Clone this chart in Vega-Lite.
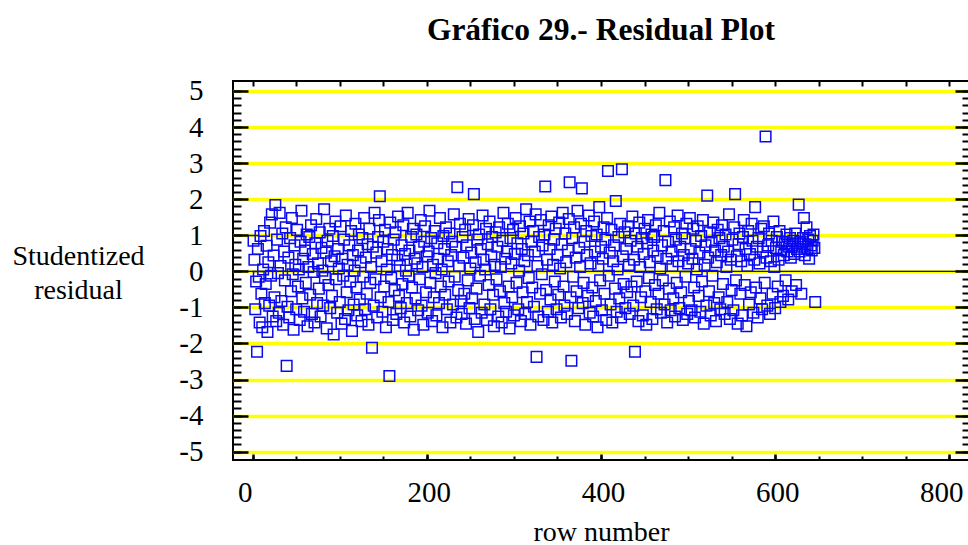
{
"$schema": "https://vega.github.io/schema/vega-lite/v6.json",
"autosize": "none",
"width": 736,
"height": 379,
"padding": {"left": 233, "top": 81, "right": 0, "bottom": 85},
"background": "white",
"config": {"view": {"stroke": "black", "strokeWidth": 2}, "font": "Liberation Serif"},
"title": {"text": "Gráfico 29.- Residual Plot", "font": "Liberation Serif", "fontSize": 31.5, "fontWeight": "bold", "anchor": "middle", "frame": "group", "offset": 5, "baseline": "alphabetic", "color": "black"},
"datasets": {
"resid": [
{"r":1,"v":0.85},{"r":2,"v":0.32},{"r":3,"v":-1.05},{"r":4,"v":-0.28},{"r":5,"v":-2.23},{"r":6,"v":0.62},{"r":7,"v":-0.15},{"r":8,"v":-1.42},{"r":9,"v":0.98},{"r":10,"v":-0.62},
{"r":11,"v":-1.55},{"r":12,"v":0.05},{"r":13,"v":1.12},{"r":14,"v":-0.88},{"r":15,"v":-0.35},{"r":16,"v":0.71},{"r":17,"v":-1.68},{"r":18,"v":0.25},{"r":19,"v":-0.95},{"r":20,"v":1.35},
{"r":21,"v":-0.12},{"r":22,"v":1.58},{"r":23,"v":-1.25},{"r":24,"v":0.44},{"r":25,"v":-0.72},{"r":26,"v":1.84},{"r":27,"v":-1.38},{"r":28,"v":0.88},{"r":29,"v":-0.05},{"r":30,"v":-1.15},
{"r":31,"v":1.62},{"r":32,"v":0.15},{"r":33,"v":-0.82},{"r":34,"v":1.05},{"r":35,"v":-1.48},{"r":36,"v":0.55},{"r":37,"v":-0.25},{"r":38,"v":1.22},{"r":39,"v":-2.62},{"r":40,"v":-0.98},
{"r":41,"v":0.38},{"r":42,"v":-1.28},{"r":43,"v":0.92},{"r":44,"v":-0.55},{"r":45,"v":1.48},{"r":46,"v":-0.08},{"r":47,"v":-1.62},{"r":48,"v":0.72},{"r":49,"v":0.18},{"r":50,"v":-1.05},
{"r":51,"v":1.15},{"r":52,"v":-0.42},{"r":53,"v":0.05},{"r":54,"v":-1.35},{"r":55,"v":0.82},{"r":56,"v":1.68},{"r":57,"v":-0.75},{"r":58,"v":0.35},{"r":59,"v":-1.12},{"r":60,"v":0.58},
{"r":61,"v":-0.32},{"r":62,"v":1.02},{"r":63,"v":-1.52},{"r":64,"v":0.12},{"r":65,"v":0.95},{"r":66,"v":-0.65},{"r":67,"v":1.28},{"r":68,"v":-1.18},{"r":69,"v":0.48},{"r":70,"v":-0.02},
{"r":71,"v":-1.42},{"r":72,"v":0.78},{"r":73,"v":1.45},{"r":74,"v":-0.88},{"r":75,"v":0.22},{"r":76,"v":-0.48},{"r":77,"v":1.08},{"r":78,"v":-1.25},{"r":79,"v":0.65},{"r":80,"v":0.02},
{"r":81,"v":-0.95},{"r":82,"v":1.72},{"r":83,"v":-0.18},{"r":84,"v":0.52},{"r":85,"v":-1.58},{"r":86,"v":0.85},{"r":87,"v":-0.38},{"r":88,"v":1.18},{"r":89,"v":-1.02},{"r":90,"v":0.28},
{"r":91,"v":-0.68},{"r":92,"v":0.98},{"r":93,"v":-1.75},{"r":94,"v":0.42},{"r":95,"v":1.38},{"r":96,"v":-0.22},{"r":97,"v":-1.15},{"r":98,"v":0.62},{"r":99,"v":0.08},{"r":100,"v":-0.85},
{"r":101,"v":1.25},{"r":102,"v":-1.45},{"r":103,"v":0.35},{"r":104,"v":-0.12},{"r":105,"v":0.88},{"r":106,"v":-1.32},{"r":107,"v":1.55},{"r":108,"v":-0.58},{"r":109,"v":0.18},{"r":110,"v":-1.08},
{"r":111,"v":0.72},{"r":112,"v":-0.28},{"r":113,"v":1.12},{"r":114,"v":-1.65},{"r":115,"v":0.45},{"r":116,"v":-0.92},{"r":117,"v":0.02},{"r":118,"v":1.32},{"r":119,"v":-0.45},{"r":120,"v":-1.22},
{"r":121,"v":0.58},{"r":122,"v":1.02},{"r":123,"v":-0.78},{"r":124,"v":0.25},{"r":125,"v":-1.38},{"r":126,"v":0.92},{"r":127,"v":-0.15},{"r":128,"v":1.48},{"r":129,"v":-1.05},{"r":130,"v":0.38},
{"r":131,"v":-0.62},{"r":132,"v":0.75},{"r":133,"v":-1.48},{"r":134,"v":1.18},{"r":135,"v":-0.32},{"r":136,"v":0.12},{"r":137,"v":-2.12},{"r":138,"v":0.68},{"r":139,"v":-0.95},{"r":140,"v":1.62},
{"r":141,"v":-0.22},{"r":142,"v":0.52},{"r":143,"v":-1.28},{"r":144,"v":0.95},{"r":145,"v":1.42},{"r":146,"v":2.08},{"r":147,"v":-0.72},{"r":148,"v":0.28},{"r":149,"v":-1.12},{"r":150,"v":0.82},
{"r":151,"v":-0.42},{"r":152,"v":1.15},{"r":153,"v":-1.55},{"r":154,"v":0.05},{"r":155,"v":0.62},{"r":156,"v":-0.85},{"r":157,"v":-2.9},{"r":158,"v":1.35},{"r":159,"v":-0.18},{"r":160,"v":0.45},
{"r":161,"v":-1.35},{"r":162,"v":0.88},{"r":163,"v":-0.52},{"r":164,"v":1.08},{"r":165,"v":-1.18},{"r":166,"v":0.32},{"r":167,"v":1.52},{"r":168,"v":-0.68},{"r":169,"v":0.15},{"r":170,"v":-1.02},
{"r":171,"v":0.72},{"r":172,"v":-0.35},{"r":173,"v":1.28},{"r":174,"v":-1.42},{"r":175,"v":0.48},{"r":176,"v":0.02},{"r":177,"v":-0.88},{"r":178,"v":1.62},{"r":179,"v":-0.12},{"r":180,"v":0.58},
{"r":181,"v":-1.25},{"r":182,"v":0.95},{"r":183,"v":-0.45},{"r":184,"v":1.18},{"r":185,"v":-1.62},{"r":186,"v":0.35},{"r":187,"v":-0.75},{"r":188,"v":1.02},{"r":189,"v":0.22},{"r":190,"v":-1.08},
{"r":191,"v":0.68},{"r":192,"v":-0.22},{"r":193,"v":1.42},{"r":194,"v":-0.95},{"r":195,"v":0.12},{"r":196,"v":-1.48},{"r":197,"v":0.82},{"r":198,"v":1.25},{"r":199,"v":-0.58},{"r":200,"v":0.42},
{"r":201,"v":-1.15},{"r":202,"v":0.55},{"r":203,"v":1.68},{"r":204,"v":-0.32},{"r":205,"v":0.92},{"r":206,"v":-1.38},{"r":207,"v":0.18},{"r":208,"v":-0.72},{"r":209,"v":1.12},{"r":210,"v":-0.05},
{"r":211,"v":-1.22},{"r":212,"v":0.78},{"r":213,"v":0.35},{"r":214,"v":-0.88},{"r":215,"v":1.48},{"r":216,"v":-0.42},{"r":217,"v":0.05},{"r":218,"v":-1.55},{"r":219,"v":0.98},{"r":220,"v":0.62},
{"r":221,"v":-0.65},{"r":222,"v":1.22},{"r":223,"v":-1.05},{"r":224,"v":0.28},{"r":225,"v":-0.28},{"r":226,"v":1.05},{"r":227,"v":-1.42},{"r":228,"v":0.45},{"r":229,"v":0.82},{"r":230,"v":-0.92},
{"r":231,"v":1.58},{"r":232,"v":-0.15},{"r":233,"v":0.68},{"r":234,"v":-1.28},{"r":235,"v":2.33},{"r":236,"v":-0.52},{"r":237,"v":0.15},{"r":238,"v":1.32},{"r":239,"v":-0.82},{"r":240,"v":-1.18},
{"r":241,"v":0.95},{"r":242,"v":0.38},{"r":243,"v":-0.62},{"r":244,"v":1.15},{"r":245,"v":-1.45},{"r":246,"v":0.72},{"r":247,"v":-0.25},{"r":248,"v":1.45},{"r":249,"v":-1.02},{"r":250,"v":0.08},
{"r":251,"v":0.52},{"r":252,"v":-0.75},{"r":253,"v":1.28},{"r":254,"v":2.14},{"r":255,"v":-1.32},{"r":256,"v":0.25},{"r":257,"v":-0.48},{"r":258,"v":0.88},{"r":259,"v":-1.68},{"r":260,"v":1.02},
{"r":261,"v":-0.12},{"r":262,"v":0.62},{"r":263,"v":-1.15},{"r":264,"v":1.55},{"r":265,"v":0.32},{"r":266,"v":-0.92},{"r":267,"v":0.05},{"r":268,"v":1.18},{"r":269,"v":-1.35},{"r":270,"v":0.75},
{"r":271,"v":-0.38},{"r":272,"v":1.38},{"r":273,"v":-1.05},{"r":274,"v":0.42},{"r":275,"v":0.95},{"r":276,"v":-0.65},{"r":277,"v":-1.52},{"r":278,"v":0.18},{"r":279,"v":1.08},{"r":280,"v":-0.22},
{"r":281,"v":0.68},{"r":282,"v":-1.25},{"r":283,"v":1.22},{"r":284,"v":-0.55},{"r":285,"v":0.12},{"r":286,"v":-1.42},{"r":287,"v":0.85},{"r":288,"v":1.62},{"r":289,"v":-0.88},{"r":290,"v":0.35},
{"r":291,"v":-1.12},{"r":292,"v":0.55},{"r":293,"v":1.32},{"r":294,"v":-0.42},{"r":295,"v":-1.58},{"r":296,"v":0.92},{"r":297,"v":0.22},{"r":298,"v":-0.72},{"r":299,"v":1.15},{"r":300,"v":-1.22},
{"r":301,"v":0.48},{"r":302,"v":1.48},{"r":303,"v":-0.32},{"r":304,"v":0.78},{"r":305,"v":-1.05},{"r":306,"v":0.02},{"r":307,"v":1.25},{"r":308,"v":-1.38},{"r":309,"v":0.62},{"r":310,"v":-0.58},
{"r":311,"v":1.05},{"r":312,"v":0.28},{"r":313,"v":-1.18},{"r":314,"v":1.72},{"r":315,"v":-0.85},{"r":316,"v":0.45},{"r":317,"v":-0.18},{"r":318,"v":1.38},{"r":319,"v":-1.48},{"r":320,"v":0.82},
{"r":321,"v":-0.45},{"r":322,"v":1.12},{"r":323,"v":-0.98},{"r":324,"v":0.55},{"r":325,"v":1.58},{"r":326,"v":-2.37},{"r":327,"v":0.15},{"r":328,"v":-1.25},{"r":329,"v":0.95},{"r":330,"v":-0.62},
{"r":331,"v":1.42},{"r":332,"v":-0.08},{"r":333,"v":0.72},{"r":334,"v":-1.35},{"r":335,"v":1.02},{"r":336,"v":2.35},{"r":337,"v":-0.52},{"r":338,"v":0.32},{"r":339,"v":-1.12},{"r":340,"v":1.28},
{"r":341,"v":0.62},{"r":342,"v":-0.78},{"r":343,"v":1.52},{"r":344,"v":-1.42},{"r":345,"v":0.18},{"r":346,"v":0.88},{"r":347,"v":-0.28},{"r":348,"v":1.18},{"r":349,"v":-1.05},{"r":350,"v":0.45},
{"r":351,"v":-0.65},{"r":352,"v":1.35},{"r":353,"v":0.08},{"r":354,"v":-1.28},{"r":355,"v":0.75},{"r":356,"v":1.62},{"r":357,"v":-0.42},{"r":358,"v":-0.95},{"r":359,"v":1.05},{"r":360,"v":0.25},
{"r":361,"v":-1.18},{"r":362,"v":0.58},{"r":363,"v":1.45},{"r":364,"v":2.47},{"r":365,"v":-0.72},{"r":366,"v":-2.48},{"r":367,"v":0.92},{"r":368,"v":-0.15},{"r":369,"v":1.22},{"r":370,"v":-1.38},
{"r":371,"v":0.38},{"r":372,"v":-0.55},{"r":373,"v":1.68},{"r":374,"v":-1.02},{"r":375,"v":0.65},{"r":376,"v":0.12},{"r":377,"v":1.32},{"r":378,"v":2.3},{"r":379,"v":-0.88},{"r":380,"v":-0.32},
{"r":381,"v":0.82},{"r":382,"v":-1.48},{"r":383,"v":1.12},{"r":384,"v":0.45},{"r":385,"v":-0.68},{"r":386,"v":1.55},{"r":387,"v":-1.15},{"r":388,"v":0.22},{"r":389,"v":0.98},{"r":390,"v":-0.45},
{"r":391,"v":-1.25},{"r":392,"v":1.38},{"r":393,"v":0.55},{"r":394,"v":-0.82},{"r":395,"v":1.02},{"r":396,"v":-1.55},{"r":397,"v":0.15},{"r":398,"v":1.78},{"r":399,"v":-0.25},{"r":400,"v":0.68},
{"r":401,"v":-1.08},{"r":402,"v":0.35},{"r":403,"v":1.22},{"r":404,"v":-0.62},{"r":405,"v":0.88},{"r":406,"v":-1.35},{"r":407,"v":1.48},{"r":408,"v":2.78},{"r":409,"v":-0.12},{"r":410,"v":0.52},
{"r":411,"v":-0.92},{"r":412,"v":1.15},{"r":413,"v":-1.42},{"r":414,"v":0.28},{"r":415,"v":0.72},{"r":416,"v":-0.48},{"r":417,"v":1.95},{"r":418,"v":-1.12},{"r":419,"v":0.05},{"r":420,"v":0.95},
{"r":421,"v":-0.75},{"r":422,"v":1.32},{"r":423,"v":-1.28},{"r":424,"v":2.83},{"r":425,"v":0.42},{"r":426,"v":-0.35},{"r":427,"v":1.08},{"r":428,"v":-1.02},{"r":429,"v":0.62},{"r":430,"v":-0.58},
{"r":431,"v":1.25},{"r":432,"v":0.18},{"r":433,"v":-1.18},{"r":434,"v":0.85},{"r":435,"v":-0.42},{"r":436,"v":1.52},{"r":437,"v":-0.95},{"r":438,"v":0.32},{"r":439,"v":-2.23},{"r":440,"v":1.05},
{"r":441,"v":-0.28},{"r":442,"v":0.68},{"r":443,"v":-1.38},{"r":444,"v":1.35},{"r":445,"v":0.12},{"r":446,"v":-0.72},{"r":447,"v":0.92},{"r":448,"v":-1.22},{"r":449,"v":0.48},{"r":450,"v":1.18},
{"r":451,"v":-0.55},{"r":452,"v":-1.48},{"r":453,"v":0.78},{"r":454,"v":1.42},{"r":455,"v":-0.18},{"r":456,"v":0.25},{"r":457,"v":-0.85},{"r":458,"v":1.02},{"r":459,"v":-1.32},{"r":460,"v":0.58},
{"r":461,"v":0.95},{"r":462,"v":-0.38},{"r":463,"v":1.28},{"r":464,"v":-1.05},{"r":465,"v":0.42},{"r":466,"v":-0.62},{"r":467,"v":1.62},{"r":468,"v":0.08},{"r":469,"v":-1.15},{"r":470,"v":0.72},
{"r":471,"v":-0.25},{"r":472,"v":1.12},{"r":473,"v":-0.92},{"r":474,"v":2.53},{"r":475,"v":0.35},{"r":476,"v":-1.42},{"r":477,"v":0.82},{"r":478,"v":-0.48},{"r":479,"v":1.38},{"r":480,"v":-1.08},
{"r":481,"v":0.55},{"r":482,"v":0.15},{"r":483,"v":-0.75},{"r":484,"v":1.22},{"r":485,"v":-1.25},{"r":486,"v":0.88},{"r":487,"v":-0.32},{"r":488,"v":1.55},{"r":489,"v":0.28},{"r":490,"v":-1.02},
{"r":491,"v":0.68},{"r":492,"v":-0.58},{"r":493,"v":1.05},{"r":494,"v":-1.35},{"r":495,"v":0.45},{"r":496,"v":0.92},{"r":497,"v":-0.15},{"r":498,"v":1.32},{"r":499,"v":-1.18},{"r":500,"v":0.22},
{"r":501,"v":-0.82},{"r":502,"v":1.48},{"r":503,"v":0.62},{"r":504,"v":-1.08},{"r":505,"v":0.35},{"r":506,"v":1.18},{"r":507,"v":-0.45},{"r":508,"v":-1.28},{"r":509,"v":0.85},{"r":510,"v":0.05},
{"r":511,"v":1.25},{"r":512,"v":-0.68},{"r":513,"v":0.52},{"r":514,"v":-1.12},{"r":515,"v":0.98},{"r":516,"v":-0.28},{"r":517,"v":1.42},{"r":518,"v":-1.45},{"r":519,"v":0.18},{"r":520,"v":0.72},
{"r":521,"v":-0.95},{"r":522,"v":2.1},{"r":523,"v":0.38},{"r":524,"v":-0.55},{"r":525,"v":1.08},{"r":526,"v":-1.22},{"r":527,"v":0.82},{"r":528,"v":-0.12},{"r":529,"v":1.35},{"r":530,"v":-0.88},
{"r":531,"v":0.58},{"r":532,"v":-1.38},{"r":533,"v":0.25},{"r":534,"v":1.15},{"r":535,"v":-0.72},{"r":536,"v":0.92},{"r":537,"v":-1.05},{"r":538,"v":0.45},{"r":539,"v":1.28},{"r":540,"v":-0.35},
{"r":541,"v":0.68},{"r":542,"v":-1.18},{"r":543,"v":1.02},{"r":544,"v":0.12},{"r":545,"v":-0.85},{"r":546,"v":0.55},{"r":547,"v":1.58},{"r":548,"v":-1.32},{"r":549,"v":0.32},{"r":550,"v":-0.52},
{"r":551,"v":0.88},{"r":552,"v":-1.08},{"r":553,"v":1.22},{"r":554,"v":2.14},{"r":555,"v":-0.25},{"r":556,"v":0.42},{"r":557,"v":-1.45},{"r":558,"v":0.75},{"r":559,"v":1.05},{"r":560,"v":-0.62},
{"r":561,"v":0.28},{"r":562,"v":-1.22},{"r":563,"v":0.95},{"r":564,"v":1.42},{"r":565,"v":-0.38},{"r":566,"v":0.62},{"r":567,"v":-1.52},{"r":568,"v":0.15},{"r":569,"v":1.12},{"r":570,"v":-0.92},
{"r":571,"v":0.48},{"r":572,"v":-0.58},{"r":573,"v":1.32},{"r":574,"v":0.85},{"r":575,"v":-1.15},{"r":576,"v":0.32},{"r":577,"v":1.78},{"r":578,"v":-0.45},{"r":579,"v":0.68},{"r":580,"v":-1.28},
{"r":581,"v":0.92},{"r":582,"v":0.22},{"r":583,"v":-0.75},{"r":584,"v":1.18},{"r":585,"v":-1.05},{"r":586,"v":0.55},{"r":587,"v":1.25},{"r":588,"v":-0.32},{"r":589,"v":3.74},{"r":590,"v":0.38},
{"r":591,"v":-0.95},{"r":592,"v":0.72},{"r":593,"v":1.05},{"r":594,"v":-1.18},{"r":595,"v":0.28},{"r":596,"v":0.85},{"r":597,"v":-0.62},{"r":598,"v":1.38},{"r":599,"v":0.12},{"r":600,"v":-1.02},
{"r":601,"v":0.65},{"r":602,"v":0.95},{"r":603,"v":-0.42},{"r":604,"v":0.32},{"r":605,"v":1.12},{"r":606,"v":-0.85},{"r":607,"v":0.58},{"r":608,"v":0.82},{"r":609,"v":-0.68},{"r":610,"v":0.45},
{"r":611,"v":0.78},{"r":612,"v":-0.25},{"r":613,"v":1.02},{"r":614,"v":0.55},{"r":615,"v":-0.78},{"r":616,"v":0.68},{"r":617,"v":0.92},{"r":618,"v":0.38},{"r":619,"v":-0.55},{"r":620,"v":0.72},
{"r":621,"v":0.85},{"r":622,"v":0.48},{"r":623,"v":1.05},{"r":624,"v":-0.38},{"r":625,"v":0.62},{"r":626,"v":0.78},{"r":627,"v":1.85},{"r":628,"v":0.55},{"r":629,"v":0.82},{"r":630,"v":-0.62},
{"r":631,"v":0.68},{"r":632,"v":0.92},{"r":633,"v":1.48},{"r":634,"v":0.45},{"r":635,"v":0.75},{"r":636,"v":1.22},{"r":637,"v":0.62},{"r":638,"v":0.88},{"r":639,"v":0.35},{"r":640,"v":0.98},
{"r":641,"v":0.72},{"r":642,"v":0.58},{"r":643,"v":0.85},{"r":644,"v":1.02},{"r":645,"v":0.65},{"r":646,"v":-0.85}
],
"anchor": [{"r":0,"v":0}]
},
"resolve": {"axis": {"x": "independent", "y": "independent"}},
"layer": [
{
"data": {"name": "anchor"},
"mark": {"type": "point", "opacity": 0},
"encoding": {
"x": {"field": "r", "type": "quantitative", "scale": {"domain": [-22.6, 822.6], "nice": false, "zero": false},
"axis": {"orient": "bottom", "values": [0,50,100,150,200,250,300,350,400,450,500,550,600,650,700,750,800], "tickSize": -4, "tickColor": "black", "tickWidth": 2, "labels": false, "domain": false, "grid": false, "title": null, "zindex": 1}},
"y": {"field": "v", "type": "quantitative", "scale": {"domain": [-5.23, 5.277], "nice": false, "zero": false},
"axis": {"orient": "left", "values": [-5,-4,-3,-2,-1,0,1,2,3,4,5], "grid": true, "gridColor": "#FFFF00", "gridWidth": 3.5, "gridOpacity": 1, "ticks": false, "labels": false, "domain": false, "title": null, "zindex": 0}}
}
},
{
"data": {"name": "anchor"},
"mark": {"type": "rule", "color": "#0000FF", "strokeWidth": 1.3},
"encoding": {
"y": {"field": "v", "type": "quantitative", "axis": null}
}
},
{
"data": {"name": "anchor"},
"mark": {"type": "point", "opacity": 0},
"encoding": {
"x": {"field": "r", "type": "quantitative",
"axis": {"orient": "top", "values": [0,50,100,150,200,250,300,350,400,450,500,550,600,650,700,750,800], "tickSize": -5, "tickColor": "black", "tickWidth": 2, "labels": false, "domain": false, "grid": false, "title": null, "zindex": 1}},
"y": {"field": "v", "type": "quantitative",
"axis": {"orient": "left", "values": [-5,-4.8,-4.6,-4.4,-4.2,-4,-3.8,-3.6,-3.4,-3.2,-3,-2.8,-2.6,-2.4,-2.2,-2,-1.8,-1.6,-1.4,-1.2,-1,-0.8,-0.6,-0.4,-0.2,0,0.2,0.4,0.6,0.8,1,1.2,1.4,1.6,1.8,2,2.2,2.4,2.6,2.8,3,3.2,3.4,3.6,3.8,4,4.2,4.4,4.6,4.8,5], "tickSize": -8, "tickColor": "black", "tickWidth": 2, "labels": false, "domain": false, "grid": false, "title": null, "zindex": 1}}
}
},
{
"data": {"name": "anchor"},
"mark": {"type": "point", "opacity": 0},
"encoding": {
"x": {"field": "r", "type": "quantitative",
"axis": {"orient": "bottom", "values": [0,800], "tickSize": -6, "tickColor": "black", "tickWidth": 2.5, "labels": true, "labelFont": "Liberation Serif", "labelFontSize": 29, "labelColor": "black", "labelPadding": 24, "labelOffset": -8, "labelExpr": "'' + datum.value", "labelFlush": false, "labelOverlap": false, "domain": false, "grid": false, "title": null, "zindex": 1}},
"y": {"field": "v", "type": "quantitative",
"axis": {"orient": "right", "values": [-5,-4.8,-4.6,-4.4,-4.2,-4,-3.8,-3.6,-3.4,-3.2,-3,-2.8,-2.6,-2.4,-2.2,-2,-1.8,-1.6,-1.4,-1.2,-1,-0.8,-0.6,-0.4,-0.2,0,0.2,0.4,0.6,0.8,1,1.2,1.4,1.6,1.8,2,2.2,2.4,2.6,2.8,3,3.2,3.4,3.6,3.8,4,4.2,4.4,4.6,4.8,5], "tickSize": -7, "tickColor": "black", "tickWidth": 2, "labels": false, "domain": false, "grid": false, "title": null, "zindex": 1}}
}
},
{
"data": {"name": "anchor"},
"mark": {"type": "point", "opacity": 0},
"encoding": {
"x": {"field": "r", "type": "quantitative", "axis": null},
"y": {"field": "v", "type": "quantitative",
"axis": {"orient": "right", "values": [-5,-4,-3,-2,-1,0,1,2,3,4,5], "tickSize": -14, "tickColor": "black", "tickWidth": 2.5, "labels": false, "domain": false, "grid": false, "title": null, "zindex": 1}}
}
},
{
"data": {"name": "resid"},
"mark": {"type": "point", "shape": "square", "filled": false, "color": "#0A0AF0", "strokeWidth": 1.5, "size": 112, "opacity": 1},
"encoding": {
"x": {"field": "r", "type": "quantitative",
"axis": {"orient": "bottom", "values": [200,400,600], "tickSize": -6, "tickColor": "black", "tickWidth": 2.5, "labels": true, "labelFont": "Liberation Serif", "labelFontSize": 29, "labelColor": "black", "labelPadding": 24, "labelOffset": 2, "labelExpr": "'' + datum.value", "labelFlush": false, "labelOverlap": false, "domain": false, "grid": false, "zindex": 1,
"title": "row number", "titleFont": "Liberation Serif", "titleFontSize": 28, "titleFontWeight": "normal", "titleColor": "black", "titleBaseline": "alphabetic", "titleY": 80, "titleX": 368, "titleAnchor": null}},
"y": {"field": "v", "type": "quantitative",
"axis": {"orient": "left", "values": [-5,-4,-3,-2,-1,0,1,2,3,4,5], "tickSize": -15, "tickColor": "black", "tickWidth": 2.5, "labels": true, "labelFont": "Liberation Serif", "labelFontSize": 29, "labelColor": "black", "labelPadding": 45, "labelExpr": "'' + datum.value", "labelFlush": false, "labelOverlap": false, "labelBaseline": "middle", "domain": false, "grid": false, "zindex": 1,
"title": ["Studentized", "residual"], "titleFont": "Liberation Serif", "titleFontSize": 28, "titleFontWeight": "normal", "titleColor": "black", "titleAngle": 0, "titleAlign": "center", "titleBaseline": "alphabetic", "titleX": -155, "titleY": 183, "titleLineHeight": 34}}
}
}
]
}
